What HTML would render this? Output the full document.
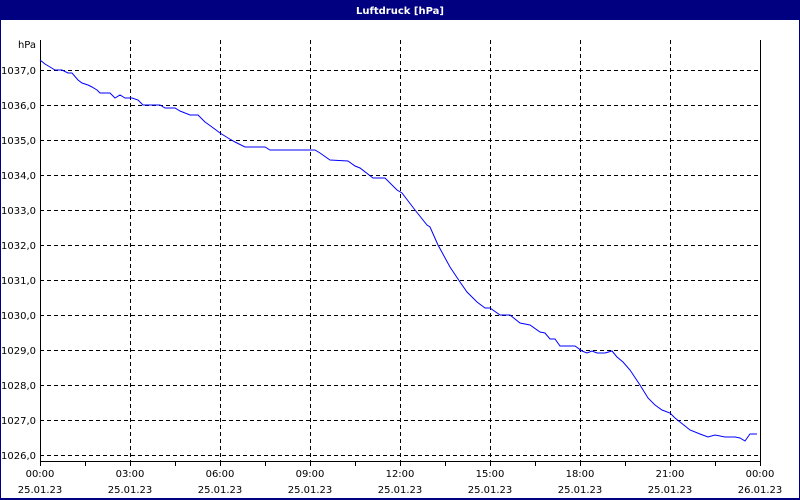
<!DOCTYPE html>
<html><head><meta charset="utf-8"><style>
body{margin:0;width:800px;height:500px;overflow:hidden;background:#fff}
svg{display:block}
text{font-family:"DejaVu Sans","Liberation Sans",sans-serif;font-size:10px;fill:#000}
</style></head><body>
<svg width="800" height="500" viewBox="0 0 800 500" xmlns="http://www.w3.org/2000/svg">
<rect x="0" y="0" width="800" height="500" fill="#fff"/>
<rect x="0" y="0" width="800" height="20" fill="#000080"/>
<rect x="0" y="0" width="1" height="500" fill="#000080"/>
<rect x="799" y="0" width="1" height="500" fill="#000080"/>
<rect x="0" y="498" width="800" height="2" fill="#000080"/>
<text x="400" y="14" text-anchor="middle" style="fill:#fff;font-weight:bold">Luftdruck [hPa]</text>
<g stroke="#000" stroke-width="1" stroke-dasharray="4,3" fill="none" shape-rendering="crispEdges">
<path d="M40 70.5H760M40 105.5H760M40 140.5H760M40 175.5H760M40 210.5H760M40 245.5H760M40 280.5H760M40 315.5H760M40 350.5H760M40 385.5H760M40 420.5H760M40 455.5H760"/>
<path d="M130.5 40V461M220.5 40V461M310.5 40V461M400.5 40V461M490.5 40V461M580.5 40V461M670.5 40V461"/>
</g>
<g stroke="#000" stroke-width="1" fill="none" shape-rendering="crispEdges">
<path d="M40.5 40V461.5H760.5V40"/>
<path d="M40.5 461V466M85.5 461V466M130.5 461V466M175.5 461V466M220.5 461V466M265.5 461V466M310.5 461V466M355.5 461V466M400.5 461V466M445.5 461V466M490.5 461V466M535.5 461V466M580.5 461V466M625.5 461V466M670.5 461V466M715.5 461V466M760.5 461V466"/>
</g>
<polyline fill="none" stroke="#0000ff" stroke-width="1" points="40,60 45,64 50,67 55,70 62,70 68,73 72,73 78,80 82,83 88,85 92,87 97,90 100,93 105,93 110,93 115,98 120,95 125,98 132,98 138,100 143,105 160,105 165,108 175,108 180,111 190,115 198,115 205,122 212,127 220,133 228,138 235,142 245,147 265,147 270,150 315,150 320,153 330,160 348,161 355,166 360,168 373,178 385,178 397,190 402,193 415,210 427,225 430,227 438,245 450,267 460,282 467,292 477,302 485,308 490,308 500,315 510,315 520,323 530,325 540,332 545,333 550,339 555,339 560,346 575,346 582,351 587,353 592,351 597,353 605,353 612,351 617,357 623,362 630,370 640,385 648,398 655,405 662,410 670,413 675,418 680,422 690,430 700,434 708,437 715,435 725,437 735,437 740,438 745,441 750,434 757,434"/>
<text x="36" y="48" text-anchor="end">hPa</text>
<g text-anchor="end">
<text x="36" y="74">1037,0</text><text x="36" y="109">1036,0</text><text x="36" y="144">1035,0</text>
<text x="36" y="179">1034,0</text><text x="36" y="214">1033,0</text><text x="36" y="249">1032,0</text>
<text x="36" y="284">1031,0</text><text x="36" y="319">1030,0</text><text x="36" y="354">1029,0</text>
<text x="36" y="389">1028,0</text><text x="36" y="424">1027,0</text><text x="36" y="459">1026,0</text>
</g>
<g text-anchor="middle">
<text x="40" y="477">00:00</text><text x="40" y="493">25.01.23</text>
<text x="130" y="477">03:00</text><text x="130" y="493">25.01.23</text>
<text x="220" y="477">06:00</text><text x="220" y="493">25.01.23</text>
<text x="310" y="477">09:00</text><text x="310" y="493">25.01.23</text>
<text x="400" y="477">12:00</text><text x="400" y="493">25.01.23</text>
<text x="490" y="477">15:00</text><text x="490" y="493">25.01.23</text>
<text x="580" y="477">18:00</text><text x="580" y="493">25.01.23</text>
<text x="670" y="477">21:00</text><text x="670" y="493">25.01.23</text>
<text x="760" y="477">00:00</text><text x="760" y="493">26.01.23</text>
</g>
</svg>
</body></html>
